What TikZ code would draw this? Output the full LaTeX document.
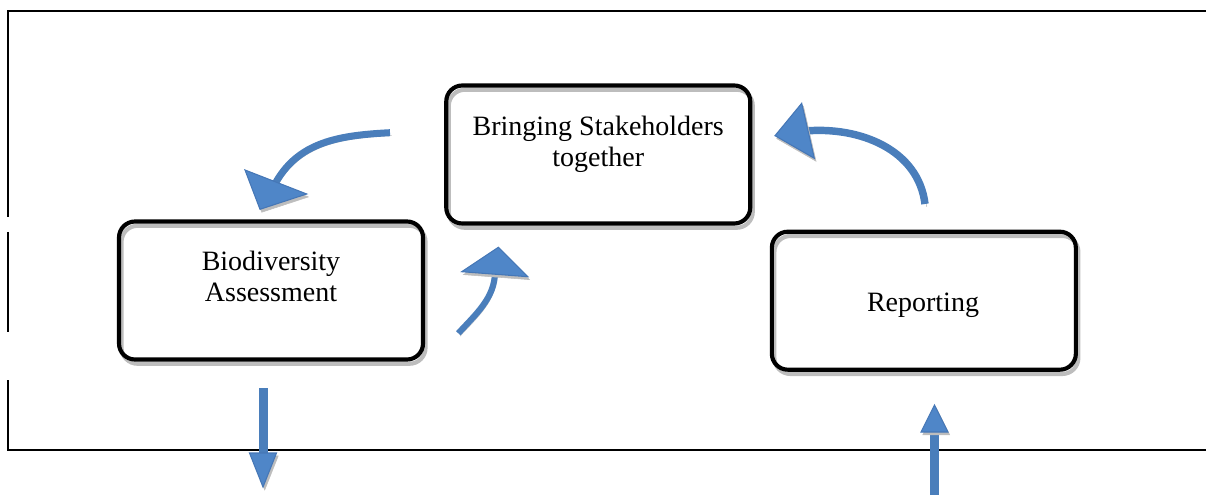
\documentclass[tikz,border=0pt]{standalone}
\usepackage{fontspec}
\setmainfont{Liberation Serif}
\definecolor{arrowblue}{HTML}{4A7EBB}
\definecolor{headblue}{HTML}{4F86C8}
\definecolor{headline}{HTML}{4677B6}
\definecolor{shgray}{HTML}{BDBDBD}
\tikzset{
  border/.style={line width=1.5pt, draw=black},
  stagebox/.style={draw=black, line width=3.1pt, rounded corners=12pt,
    minimum width=228pt, minimum height=103.5pt, inner sep=0pt,
    preaction={draw=shgray, transform canvas={xshift=1.9pt, yshift=-3.2pt}}},
  stagetext/.style={font=\fontsize{21}{23.3}\selectfont, align=center, text=black, inner sep=0pt},
  shaft/.style={draw=arrowblue, line width=#1,
    preaction={draw=shgray, transform canvas={xshift=1.3pt, yshift=-2.2pt}}},
  shaft/.default=5.25pt,
  headtri/.style={fill=headblue, draw=headline, line width=0.8pt, line join=miter,
    preaction={fill=shgray, draw=shgray, transform canvas={xshift=1.3pt, yshift=-2.2pt}}},
}
\begin{document}
\begin{tikzpicture}[x=0.75pt,y=-0.75pt]
\useasboundingbox (0,0) rectangle (1206,495);
% frame
\draw[border] (1206,11) -- (8.3,11) -- (8.3,216.7);
\draw[border] (8.3,232) -- (8.3,332);
\draw[border] (8.3,380) -- (8.3,449.5) -- (1206,449.5);
% boxes
\node[stagebox] (A) at (271,290.5) {};
\node[stagebox] (B) at (598.25,154.5) {};
\node[stagebox] (C) at (923.85,300.7) {};
\node[stagetext] (At) at (A.center |- 0,276.6) {Biodiversity\\Assessment};
\node[stagetext] (Bt) at (B.center |- 0,144) {Bringing Stakeholders\\together};
\node[stagetext, anchor=base] (Ct) at (923,311.7) {Reporting};
% coordinates for arrows
\coordinate (t1) at (390,132.7);
\coordinate (e1) at (274.6,184.7);
\coordinate (t2) at (458.3,333.3);
\coordinate (e2) at (495,272);
\coordinate (t3) at (925,204);
\coordinate (e3) at (805,131);
\coordinate (t4) at (263,388);
\coordinate (e4) at (263,455);
\coordinate (t5) at (934.5,498);
\coordinate (e5) at (934.5,430);
% arrow 1: B -> A
\draw[shaft] (t1) to[out=183,in=62] (e1);
\draw[headtri] (245,170) -- (306.7,194) -- (260,209.3) -- cycle;
% arrow 2: A -> B
\draw[shaft=4.6pt] (t2) .. controls (475,315) and (495,298) .. (e2);
\draw[headtri] (461.7,271.7) -- (527.7,276.7) -- (498.3,247.3) -- cycle;
% arrow 3: C -> B
\draw[shaft=5.6pt] (t3) to[out=97,in=5] (e3);
\draw[headtri] (801.7,103.3) -- (814.3,158.3) -- (775,135.7) -- cycle;
% arrow 4: down from A
\draw[shaft=6.75pt] (t4) -- (e4);
\draw[headtri] (249.5,453) -- (276.5,453) -- (263,487) -- cycle;
% arrow 5: up to C
\draw[shaft=6.75pt] (t5) -- (e5);
\draw[headtri] (921,432) -- (948,432) -- (934.5,405) -- cycle;
\end{tikzpicture}
\end{document}
